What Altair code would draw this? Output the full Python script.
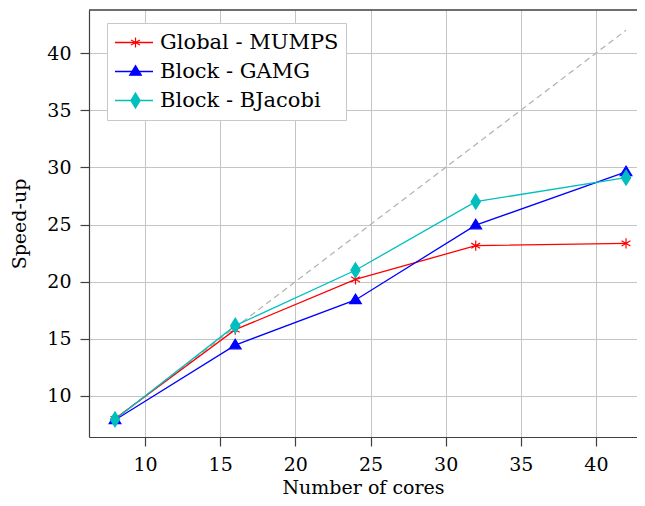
import altair as alt
import pandas as pd

# ---- data ----
cores = [8, 16, 24, 32, 42]
mumps = [8.0, 15.8, 20.2, 23.15, 23.35]
gamg = [7.9, 14.45, 18.4, 24.95, 29.6]
bjacobi = [7.95, 16.15, 21.0, 27.0, 29.1]
ideal_x = [8, 42]
ideal_y = [8, 42]
series_names = ["Global - MUMPS", "Block - GAMG", "Block - BJacobi"]
x_ticks = [10, 15, 20, 25, 30, 35, 40]
y_ticks = [10, 15, 20, 25, 30, 35, 40]

colors = ["#ff0000", "#0000ff", "#00bfbf"]
shapes = [
    "M0,-0.68L0,0.68M-0.59,-0.34L0.59,0.34M-0.59,0.34L0.59,-0.34",
    "M0,-0.78L0.78,0.5L-0.78,0.5Z",
    "M0,-1L0.62,0L0,1L-0.62,0Z",
]

rows = []
for name, vals in zip(series_names, [mumps, gamg, bjacobi]):
    for c, v in zip(cores, vals):
        rows.append({"cores": c, "speedup": v, "series": name})
df = pd.DataFrame(rows)
ideal_df = pd.DataFrame({"cores": ideal_x, "speedup": ideal_y})

FONT = "DejaVu Serif"
FS = 19
W, H = 548, 427

xscale = alt.Scale(domain=[6.27, 42.73], nice=False, zero=False)
yscale = alt.Scale(domain=[6.41, 43.77], nice=False, zero=False)

x_enc = alt.X("cores:Q", scale=xscale,
              axis=alt.Axis(values=x_ticks, title="Number of cores",
                            titleX=W / 2, titleY=56, titleBaseline="alphabetic",
                            titleAlign="center", labelPadding=9))
y_enc = alt.Y("speedup:Q", scale=yscale,
              axis=alt.Axis(values=y_ticks, title="Speed-up",
                            titleAngle=270, titleX=-64, titleY=H / 2,
                            titleBaseline="alphabetic", titleAlign="center",
                            labelPadding=9))

ideal = alt.Chart(ideal_df).mark_line(
    color="#b0b0b0", strokeDash=[6, 4], strokeWidth=1.2
).encode(x=x_enc, y=y_enc)

line_legend = alt.Legend(
    title=None, orient="none", legendX=18, legendY=13,
    symbolType="stroke", symbolSize=1444, symbolStrokeWidth=1.3,
    padding=7, clipHeight=25, rowPadding=4, labelOffset=6,
    labelFont=FONT, labelFontSize=21, labelColor="black", labelLimit=400,
    strokeColor="#c8c8c8", fillColor="white", zindex=1,
)

lines = alt.Chart(df).mark_line(strokeWidth=1.3).encode(
    x=x_enc, y=y_enc,
    color=alt.Color("series:N", scale=alt.Scale(domain=series_names, range=colors),
                    legend=line_legend),
)

pt_legend = alt.Legend(
    title=None, orient="none", legendX=18, legendY=13,
    symbolSize=225, symbolStrokeWidth=1.2, symbolOffset=12,
    padding=7, clipHeight=25, rowPadding=4, labelOffset=6,
    labelFont=FONT, labelFontSize=FS, labelExpr="''", labelLimit=400,
    strokeColor="transparent", fillColor="transparent", zindex=2,
)

points = alt.Chart(df).mark_point(filled=True, size=225, strokeWidth=1.2, opacity=1).encode(
    x=x_enc, y=y_enc,
    color=alt.Color("series:N", scale=alt.Scale(domain=series_names, range=colors),
                    legend=pt_legend),
    stroke=alt.Stroke("series:N", scale=alt.Scale(domain=series_names, range=colors),
                      legend=pt_legend),
    shape=alt.Shape("series:N", scale=alt.Scale(domain=series_names, range=shapes),
                    legend=pt_legend),
)

top_border = alt.Chart(ideal_df).mark_rule(color="#404040", strokeWidth=1.2).encode(
    x=alt.value(0), x2=alt.value(W), y=alt.value(0)
)

chart = alt.layer(ideal, lines, points, top_border).resolve_scale(
    color="independent", shape="independent", stroke="independent"
).resolve_legend(
    color="independent", shape="independent", stroke="independent"
).properties(
    width=W, height=H,
    autosize=alt.AutoSizeParams(type="none"),
    padding={"left": 81, "top": 2, "right": 0, "bottom": 61},
).configure_view(stroke=None).configure_axis(
    labelFont=FONT, labelFontSize=FS, labelColor="black",
    titleFont=FONT, titleFontSize=FS, titleFontWeight="normal", titleColor="black",
    grid=True, gridColor="#c4c4c4", gridWidth=1,
    domainColor="#404040", domainWidth=1.2,
    tickColor="#404040", tickWidth=1.2, tickSize=9,
)

chart.save("out.html", embed_options={"renderer": "svg", "actions": False})
